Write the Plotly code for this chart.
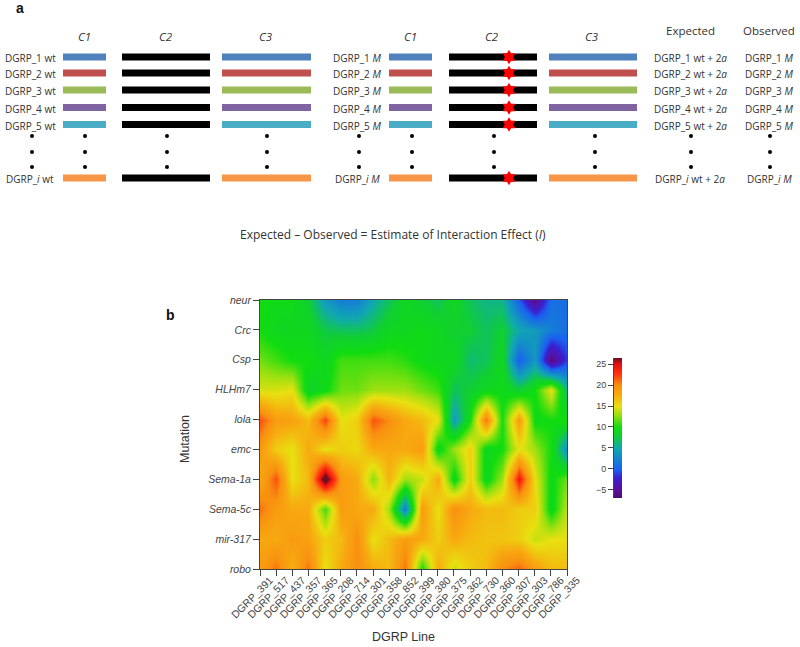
import plotly.graph_objects as go

# panel a
line_ids = ['1', '2', '3', '4', '5', '<i>i</i>']
line_colors = ['#4f81bd', '#c0504d', '#9bbb59', '#8064a2', '#4bacc6', '#f79646']
row_y = [57, 73, 90, 107.5, 124.5, 178]
dot_y = [136, 152, 167]
dot_x = [32, 85, 167, 267, 359, 412, 494, 595, 691, 770]
c1_wt = [63, 106]
c2_wt = [122, 210]
c3_wt = [222, 311]
c1_m = [389, 432]
c2_m = [449, 537]
c3_m = [549, 637]
mutation_x = 509
headers = ['C1', 'C2', 'C3', 'C1', 'C2', 'C3']
header_x = [84, 166, 266, 410, 492, 592]

# panel b
genes = ['neur', 'Crc', 'Csp', 'HLHm7', 'lola', 'emc', 'Sema-1a', 'Sema-5c', 'mir-317', 'robo']
dgrp = ['391', '517', '437', '357', '365', '208', '714', '301', '358', '852',
        '399', '380', '375', '362', '730', '360', '307', '303', '786', '335']
neur = [10, 9.5, 9.5, 8, 4, 2, 2, 5, 7, 9, 8, 7, 9, 7, 6, 6, 0, -6, 1, 1]
crc = [10, 9, 9, 9, 7.5, 7, 7, 7.5, 9, 9, 9.5, 9, 8, 8, 7, 8, 5, 4, 2, 1]
csp = [12, 11, 10, 10, 9, 11, 11, 11, 11, 10.5, 9.5, 9, 9, 6.5, 7, 9, 0, 4, -6.5, -1]
hlhm7 = [14.5, 14.5, 15, 8.5, 9.5, 12, 12, 13, 13, 13, 12, 11, 7, 8, 9, 9.5, 8, 10, 15, 6]
lola = [22, 19, 18.5, 17, 22.5, 15, 16, 22, 20, 18, 17, 15, 4, 10, 21, 10, 19, 9.5, 10, 10]
emc = [19, 16, 15, 18, 15, 16, 15.5, 18, 18, 18, 19, 9, 13, 16, 9, 10, 15, 13, 10, 3]
sema1a = [18, 22, 15, 17, 28.5, 19, 18, 12.5, 17.5, 13, 14, 18, 9, 16, 9, 13, 24.5, 15, 9.5, 12]
sema5c = [21, 19, 18, 18, 11, 19, 18, 18, 13, 2, 19, 15, 20, 18, 17, 17, 16, 16, 9, 14]
mir317 = [18, 18, 19, 18.5, 16, 17, 20, 15, 17, 19, 18, 16, 18, 17, 16.5, 16.5, 16, 14, 15, 15]
robo = [19, 21, 17.5, 21, 15, 18, 20, 18, 17, 21, 10, 18, 14, 16, 17, 20, 21.5, 19, 17, 17]
effect = [neur, crc, csp, hlhm7, lola, emc, sema1a, sema5c, mir317, robo]

zmin, zmax = -7, 26.5
stops = [(-7, '#4a0a6a'), (-5, '#5a109a'), (-2, '#3a20d0'), (0, '#1a60f0'), (5, '#10a8b0'),
         (8, '#10d030'), (10, '#10dc10'), (13, '#a0e010'), (15, '#e8e010'), (18, '#f8a810'),
         (20, '#f89010'), (23, '#ff3010'), (25, '#e81010'), (26.5, '#701020')]
scale = [[(v - zmin) / (zmax - zmin), c] for v, c in stops]
bar_levels = [s[0] for s in stops]

font = 'Open Sans'
arial = 'Liberation Sans'
fig = go.Figure()

fig.add_trace(go.Heatmap(z=effect, x=list(range(len(dgrp))), y=list(range(len(genes))),
                         zmin=zmin, zmax=zmax, colorscale=scale, zsmooth='best',
                         showscale=False, hoverinfo='skip', xaxis='x', yaxis='y'))
fig.add_trace(go.Heatmap(z=[[v] for v in bar_levels], x=[0], y=bar_levels, dx=1,
                         zmin=zmin, zmax=zmax, colorscale=scale, zsmooth='best',
                         showscale=False, hoverinfo='skip', xaxis='x3', yaxis='y3'))


def bars(span, colors, offset=0):
    for y, c in zip(row_y, colors):
        fig.add_trace(go.Scatter(x=span, y=[y + offset, y + offset], mode='lines',
                                 line=dict(color=c, width=7), showlegend=False,
                                 hoverinfo='skip', xaxis='x2', yaxis='y2'))


black = ['#000000'] * len(row_y)
bars(c1_wt, line_colors)
bars(c2_wt, black)
bars(c3_wt, line_colors)
bars(c1_m, line_colors)
bars(c2_m, black)
bars(c3_m, line_colors)

fig.add_trace(go.Scatter(x=[mutation_x] * len(row_y), y=row_y, mode='markers',
                         marker=dict(symbol='hexagram', size=11, color='#ff0000'),
                         showlegend=False, hoverinfo='skip', xaxis='x2', yaxis='y2'))
fig.add_trace(go.Scatter(x=[x for x in dot_x for _ in dot_y], y=dot_y * len(dot_x), mode='markers',
                         marker=dict(size=4, color='#000000'),
                         showlegend=False, hoverinfo='skip', xaxis='x2', yaxis='y2'))


def label(x, y, text, size=10, family=font, color='#333333', **kw):
    fig.add_annotation(x=x, y=y, xref='x2', yref='y2', text=text, showarrow=False,
                       font=dict(size=size, family=family, color=color), **kw)


for i, y in zip(line_ids, row_y):
    label(30, y + 1, f'DGRP_{i} wt')
    label(357, y + 1, f'DGRP_{i} <i>M</i>')
    label(690, y + 1, f'DGRP_{i} wt + 2<i>a</i>')
    label(769, y + 1, f'DGRP_{i} <i>M</i>')
for h, x in zip(headers, header_x):
    label(x, 36, f'<i>{h}</i>', size=11.5)
label(690, 30, 'Expected', size=11.5)
label(769, 30, 'Observed', size=11.5)
label(393, 234, 'Expected – Observed = Estimate of Interaction Effect (<i>I</i>)', size=12)
label(20, 8, '<b>a</b>', size=14, family=arial, color='#111111')
label(170, 315, '<b>b</b>', size=14, family=arial, color='#111111')
label(403, 637, 'DGRP Line', size=12.5, family=arial)
label(185, 439, 'Mutation', size=12.5, family=arial, textangle=-90)

tick_style = dict(ticks='outside', ticklen=6, tickcolor='#444444', tickwidth=1,
                  showline=True, linecolor='#444444', linewidth=1, mirror=True,
                  showgrid=False, zeroline=False, automargin=False)
fig.update_layout(
    width=800, height=647, margin=dict(t=0, l=0, r=0, b=0),
    paper_bgcolor='white', plot_bgcolor='rgba(0,0,0,0)', showlegend=False,
    xaxis=dict(domain=[260 / 800, 567 / 800], range=[0, len(dgrp) - 1], anchor='y',
               tickvals=list(range(len(dgrp))), ticktext=[f'DGRP_{d}' for d in dgrp],
               tickangle=-45, ticklabelshift=10, ticklabelstandoff=-6,
               tickfont=dict(size=10.5, family=arial, color='#444444'), **tick_style),
    yaxis=dict(domain=[1 - 569 / 647, 1 - 300 / 647], range=[len(genes) - 1, 0], anchor='x',
               tickvals=list(range(len(genes))), ticktext=[f'<i>{g}</i>' for g in genes],
               tickfont=dict(size=10.5, family=arial, color='#444444'), **tick_style),
    xaxis2=dict(domain=[0, 1], range=[0, 800], visible=False, anchor='y2', automargin=False),
    yaxis2=dict(domain=[0, 1], range=[647, 0], visible=False, anchor='x2', automargin=False),
    xaxis3=dict(domain=[614 / 800, 622 / 800], range=[-0.5, 0.5], visible=False, anchor='y3',
                automargin=False),
    yaxis3=dict(domain=[1 - 498 / 647, 1 - 358 / 647], range=[zmin, zmax], anchor='x3',
                tickvals=[-5, 0, 5, 10, 15, 20, 25], ticks='outside', ticklen=5, automargin=False,
                tickcolor='#444444', showgrid=False, zeroline=False, showline=True,
                linecolor='#444444', tickfont=dict(size=9, family=arial, color='#444444')),
)

fig.write_html("out.html", config=dict(displayModeBar=False),
               post_script="document.body.style.margin='0';")
